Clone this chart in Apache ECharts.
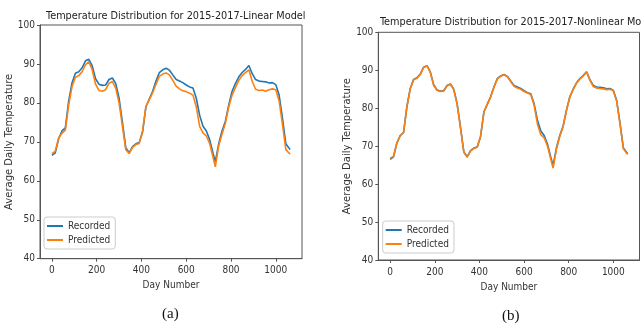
<!DOCTYPE html>
<html><head><meta charset="utf-8">
<script src="https://cdn.jsdelivr.net/npm/echarts@6/dist/echarts.min.js"></script>
<style>html,body{margin:0;padding:0;background:#fff}#c{width:641px;height:327px}</style>
</head><body><div id="c"></div>
<script>
const days = [0,15,30,45,60,75,90,105,120,135,150,165,180,195,210,225,240,255,270,285,300,315,330,345,360,375,390,405,420,435,450,465,480,495,510,525,540,555,570,585,600,615,630,645,660,675,690,705,720,730,745,760,775,790,805,820,835,850,865,880,895,910,925,940,955,970,985,1000,1015,1030,1045,1064];
const recorded = [66.5,67.2,70.8,72.8,73.6,80.5,85.2,87.6,88.0,89.0,90.8,91.2,89.5,86.2,84.8,84.5,84.6,86.0,86.4,85.0,81.2,75.0,68.5,67.2,68.8,69.5,69.8,72.5,79.0,81.0,83.0,85.6,87.8,88.5,88.9,88.4,87.2,86.0,85.6,85.2,84.6,84.1,83.8,81.2,76.8,74.0,72.8,70.5,67.0,64.9,69.5,72.8,75.3,79.5,83.0,85.0,86.7,87.8,88.6,89.6,87.5,86.0,85.6,85.5,85.4,85.1,85.2,84.7,82.0,76.0,69.5,68.0];
const predictedLinear = [67.0,67.6,71.0,72.2,73.0,79.5,84.2,86.6,87.0,88.0,89.8,90.6,88.5,84.8,83.2,83.0,83.4,85.0,85.5,83.8,80.0,74.0,68.0,67.0,68.6,69.3,69.6,72.8,79.2,80.8,82.6,84.8,86.8,87.4,87.7,87.2,85.8,84.3,83.6,83.1,82.9,82.5,82.0,79.0,74.0,72.3,71.5,69.5,66.0,63.6,69.0,72.0,74.8,79.0,82.0,84.0,85.8,87.0,87.8,88.5,85.5,83.5,83.2,83.3,83.0,83.4,83.6,83.4,80.5,74.5,68.0,66.8];
const predictedNonlinear = [66.8,67.3,70.9,72.7,73.6,80.3,85.1,87.5,87.9,88.9,90.7,91.2,89.4,86.0,84.7,84.4,84.5,85.9,86.3,84.9,81.0,74.8,68.4,67.1,68.7,69.4,69.7,72.6,79.0,81.0,82.9,85.5,87.7,88.4,88.8,88.3,87.0,85.8,85.3,85.0,84.4,84.0,83.6,80.8,75.8,73.0,72.2,70.0,66.5,64.2,69.2,72.6,75.2,79.4,82.9,84.9,86.6,87.7,88.5,89.5,87.4,85.7,85.3,85.2,85.1,84.9,85.0,84.6,81.8,75.8,69.3,67.8];
const xTicks = [0,200,400,600,800,1000];
const yTicks = [40,50,60,70,80,90,100];
const titles = ['Temperature Distribution for 2015-2017-Linear Model','Temperature Distribution for 2015-2017-Nonlinear Model'];
const captions = ['(a)','(b)'];
const seriesNames = ['Recorded','Predicted'];

const NARROW = "'DejaVu Sans Condensed','Liberation Sans Narrow','DejaVu Sans',sans-serif";
const BLUE = '#1f77b4', ORANGE = '#ff7f0e', SPINE = '#555', TXT = '#333';
const zip = (a,b) => a.map((v,i)=>[v,b[i]]);

const grids = [
  {left:40, top:25, width:262, height:233.7},
  {left:378.3, top:32.3, width:261.2, height:227.7}
];
function xAx(i){return {type:'value', gridIndex:i, min:-53.2, max:1117.2,
  name:'Day Number', nameLocation:'middle', nameGap:22,
  nameTextStyle:{fontFamily:NARROW, fontSize:10, color:TXT},
  axisLine:{show:true,onZero:false,lineStyle:{color:SPINE,width:1}},
  axisTick:{show:true,length:3,lineStyle:{color:SPINE},customValues:xTicks},
  axisLabel:{fontFamily:NARROW,fontSize:10,color:TXT,margin:7,customValues:xTicks,formatter:v=>String(v)},
  splitLine:{show:false}};}
function yAx(i){return {type:'value', gridIndex:i, min:yTicks[0], max:yTicks[yTicks.length-1], interval:10,
  name:'Average Daily Temperature', nameLocation:'middle', nameGap:20, nameRotate:90,
  nameTextStyle:{fontFamily:"'DejaVu Sans',sans-serif", fontSize:10, color:TXT},
  axisLine:{show:true,onZero:false,lineStyle:{color:SPINE,width:1}},
  axisTick:{show:true,length:3,lineStyle:{color:SPINE}},
  axisLabel:{fontFamily:NARROW,fontSize:10,color:TXT,margin:5,formatter:v=>String(v)},
  splitLine:{show:false}};}

const legendBase = {data:seriesNames, orient:'vertical', itemWidth:16, itemHeight:2, icon:'rect', itemGap:4,
  padding:[4,5,4,3], backgroundColor:'#fff', borderColor:'#ccc', borderWidth:1, borderRadius:3,
  textStyle:{fontFamily:NARROW,fontSize:10,color:TXT}};

const chart = echarts.init(document.getElementById('c'), null, {renderer:'canvas'});
chart.setOption({
  animation:false,
  backgroundColor:'#fff',
  title:[
    {text:titles[0], left:170.8, top:6, textAlign:'center', textStyle:{fontFamily:NARROW,fontSize:10.8,fontWeight:'normal',color:'#222'}},
    {text:titles[1], left:375, top:12, textStyle:{fontFamily:NARROW,fontSize:10.8,fontWeight:'normal',color:'#222'}}
  ],
  grid: grids.map(g=>Object.assign({show:true,borderColor:SPINE,borderWidth:1,backgroundColor:'transparent'},g)),
  xAxis:[xAx(0),xAx(1)],
  yAxis:[yAx(0),yAx(1)],
  legend:[
    Object.assign({left:44, top:217}, legendBase),
    Object.assign({left:382.7, top:221}, legendBase)
  ],
  series:[
    {name:seriesNames[0], type:'line', xAxisIndex:0, yAxisIndex:0, data:zip(days,recorded), showSymbol:false, lineStyle:{color:BLUE,width:1.6}, itemStyle:{color:BLUE}},
    {name:seriesNames[1], type:'line', xAxisIndex:0, yAxisIndex:0, data:zip(days,predictedLinear), showSymbol:false, lineStyle:{color:ORANGE,width:1.6}, itemStyle:{color:ORANGE}},
    {name:seriesNames[0], type:'line', xAxisIndex:1, yAxisIndex:1, data:zip(days,recorded), showSymbol:false, lineStyle:{color:BLUE,width:1.6}, itemStyle:{color:BLUE}},
    {name:seriesNames[1], type:'line', xAxisIndex:1, yAxisIndex:1, data:zip(days,predictedNonlinear), showSymbol:false, lineStyle:{color:ORANGE,width:1.6}, itemStyle:{color:ORANGE}}
  ],
  graphic:[
    {type:'text', left:162, top:307, style:{text:captions[0], font:"15px 'Liberation Serif',serif", fill:'#111'}},
    {type:'text', left:502, top:309, style:{text:captions[1], font:"15px 'Liberation Serif',serif", fill:'#111'}}
  ]
});
</script></body></html>
